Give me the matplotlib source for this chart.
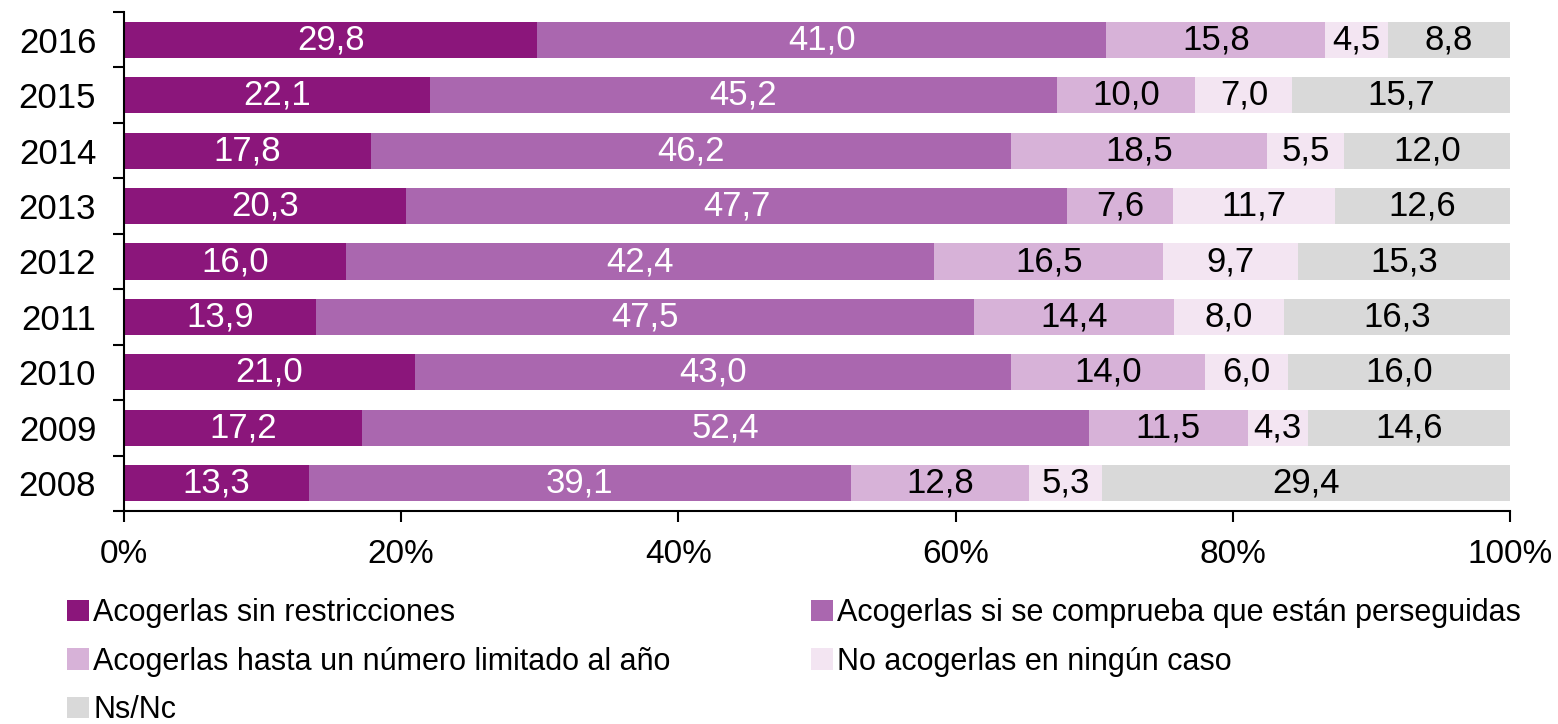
import numpy as np
import matplotlib
matplotlib.use("Agg")
import matplotlib.pyplot as plt
from matplotlib.patches import Patch

plt.rcParams["font.family"] = ["Liberation Sans", "DejaVu Sans"]

years = ["2008", "2009", "2010", "2011", "2012", "2013", "2014", "2015", "2016"]
series_names = [
    "Acogerlas sin restricciones",
    "Acogerlas si se comprueba que están perseguidas",
    "Acogerlas hasta un número limitado al año",
    "No acogerlas en ningún caso",
    "Ns/Nc",
]
sin_restricciones = [13.3, 17.2, 21.0, 13.9, 16.0, 20.3, 17.8, 22.1, 29.8]
si_perseguidas = [39.1, 52.4, 43.0, 47.5, 42.4, 47.7, 46.2, 45.2, 41.0]
numero_limitado = [12.8, 11.5, 14.0, 14.4, 16.5, 7.6, 18.5, 10.0, 15.8]
ningun_caso = [5.3, 4.3, 6.0, 8.0, 9.7, 11.7, 5.5, 7.0, 4.5]
ns_nc = [29.4, 14.6, 16.0, 16.3, 15.3, 12.6, 12.0, 15.7, 8.8]

colors = ["#8B167B", "#AA67AF", "#D7B2D8", "#F3E5F2", "#D9D9D9"]
label_colors = ["white", "white", "black", "black", "black"]

data = np.array([sin_restricciones, si_perseguidas, numero_limitado, ningun_caso, ns_nc])
totals = data.sum(axis=0)
shares = data / totals * 100

fig = plt.figure(figsize=(15.58, 7.24), dpi=100)
ax = fig.add_axes([124 / 1558, 1 - 511 / 724, (1510 - 124) / 1558, (511 - 12) / 724])

y = np.arange(len(years))
left = np.zeros(len(years))
for i in range(len(series_names)):
    ax.barh(y, shares[i], left=left, height=0.65, color=colors[i], edgecolor="none")
    for j in range(len(years)):
        ax.text(left[j] + shares[i][j] / 2, y[j], f"{data[i][j]:.1f}".replace(".", ","),
                ha="center", va="center", fontsize=25, color=label_colors[i])
    left += shares[i]

ax.set_xlim(0, 100)
ax.set_ylim(-0.5, len(years) - 0.5)
ax.set_xticks(np.arange(0, 101, 20))
ax.set_xticklabels([f"{v}%" for v in range(0, 101, 20)], fontsize=24)
ax.set_yticks(y)
ax.set_yticklabels(years, fontsize=25)
ax.set_yticks(np.arange(-0.5, len(years), 1), minor=True)
ax.tick_params(axis="y", which="major", length=0, pad=20)
ax.tick_params(axis="y", which="minor", length=8, width=1.5, direction="out")
ax.tick_params(axis="x", which="major", length=8, width=1.5, direction="out", pad=12)
for s in ["top", "right"]:
    ax.spines[s].set_visible(False)
for s in ["left", "bottom"]:
    ax.spines[s].set_linewidth(1.5)

handles = [Patch(facecolor=c, edgecolor="none") for c in colors]
order = [0, 2, 4, 1, 3]
fig.legend([handles[k] for k in order], [series_names[k] for k in order],
           ncol=2, loc="upper left", bbox_to_anchor=(55 / 1558, 1 - 586 / 724),
           frameon=False, fontsize=22, handlelength=0.7, handleheight=0.7,
           handletextpad=0.15, columnspacing=4.6, labelspacing=0.6,
           borderaxespad=0)

fig.savefig("out.png", dpi=100)
